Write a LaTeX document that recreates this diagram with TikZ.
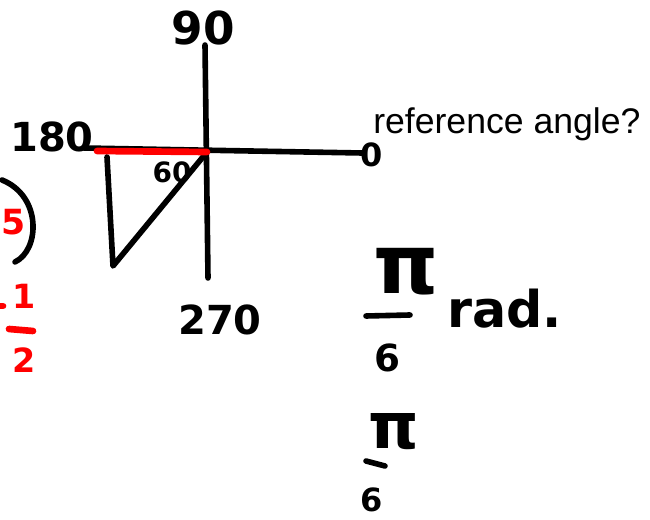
\documentclass[tikz,border=0pt]{standalone}
\usepackage{fontspec}
\setmainfont{Liberation Sans}
\newfontfamily\handfont{DejaVu Sans}
\usetikzlibrary{positioning}

\begin{document}
\begin{tikzpicture}[x=0.75pt, y=-0.75pt,
        ink/.style={line width=4.2pt, line cap=round, line join=round},
        redink/.style={ink, red, line width=5pt},
        hand/.style={inner sep=0pt, font=\handfont\bfseries\fontsize{#1}{#1}\selectfont},
        hand/.default=30,
        typed/.style={inner sep=0pt, font=\fontsize{26.7}{32}\selectfont},
    ]
        \useasboundingbox (0,0) rectangle (650,520);
        \clip (0,0) rectangle (650,520);
        % axes
        \coordinate (O) at (207,152);
        \coordinate (top) at (205,45);
        \coordinate (bot) at (208,278);
        \coordinate (left) at (84,148);
        \coordinate (right) at (362,153);
        \draw[ink] (top) -- (bot);
        \draw[ink] (left) -- (right);
        \node[hand=24] (zero) at (372,155) {0};
        \node[hand=34] (n90) at (203,28) {90};
        \node[hand] (n180) at (52,137) {180};
        \node[hand] (n270) at (220,320) {270};
        % triangle
        \coordinate (A) at (107,157);
        \coordinate (B) at (113,266);
        \draw[ink] (A) -- (B) -- (O);
        \draw[redink] (97,151) -- (O);
        \node[hand=21] (n60) at (172,172) {60};
        \node[typed, anchor=base west] (ask) at (373,134) {reference angle?};
        % left edge
        \draw[ink] (2,180) .. controls (42,196) and (40,250) .. (15,262);
        \node[hand=26, red, anchor=west] (five) at (1,222) {5};
        \node[hand=25, red] (one) at (24,296) {1};
        \draw[redink] (-10,306) -- (3,306);
        \draw[redink] (9,329) -- (33,331);
        \node[hand=25, red] (two) at (24,360) {2};
        % pi over 6
        \node[hand=62] (pi) at (406,272) {π};
        \draw[ink] (366,316) -- (410,315);
        \node[hand=28] (six) at (387,358) {6};
        \node[hand=38, anchor=base west] (rad) at (447,328) {rad.};
        \node[hand=48] (pib) at (394,432) {π};
        \draw[ink] (366,461) -- (385,466);
        \node[hand=24] (sixb) at (372,500) {6};
    \end{tikzpicture}
\end{document}
